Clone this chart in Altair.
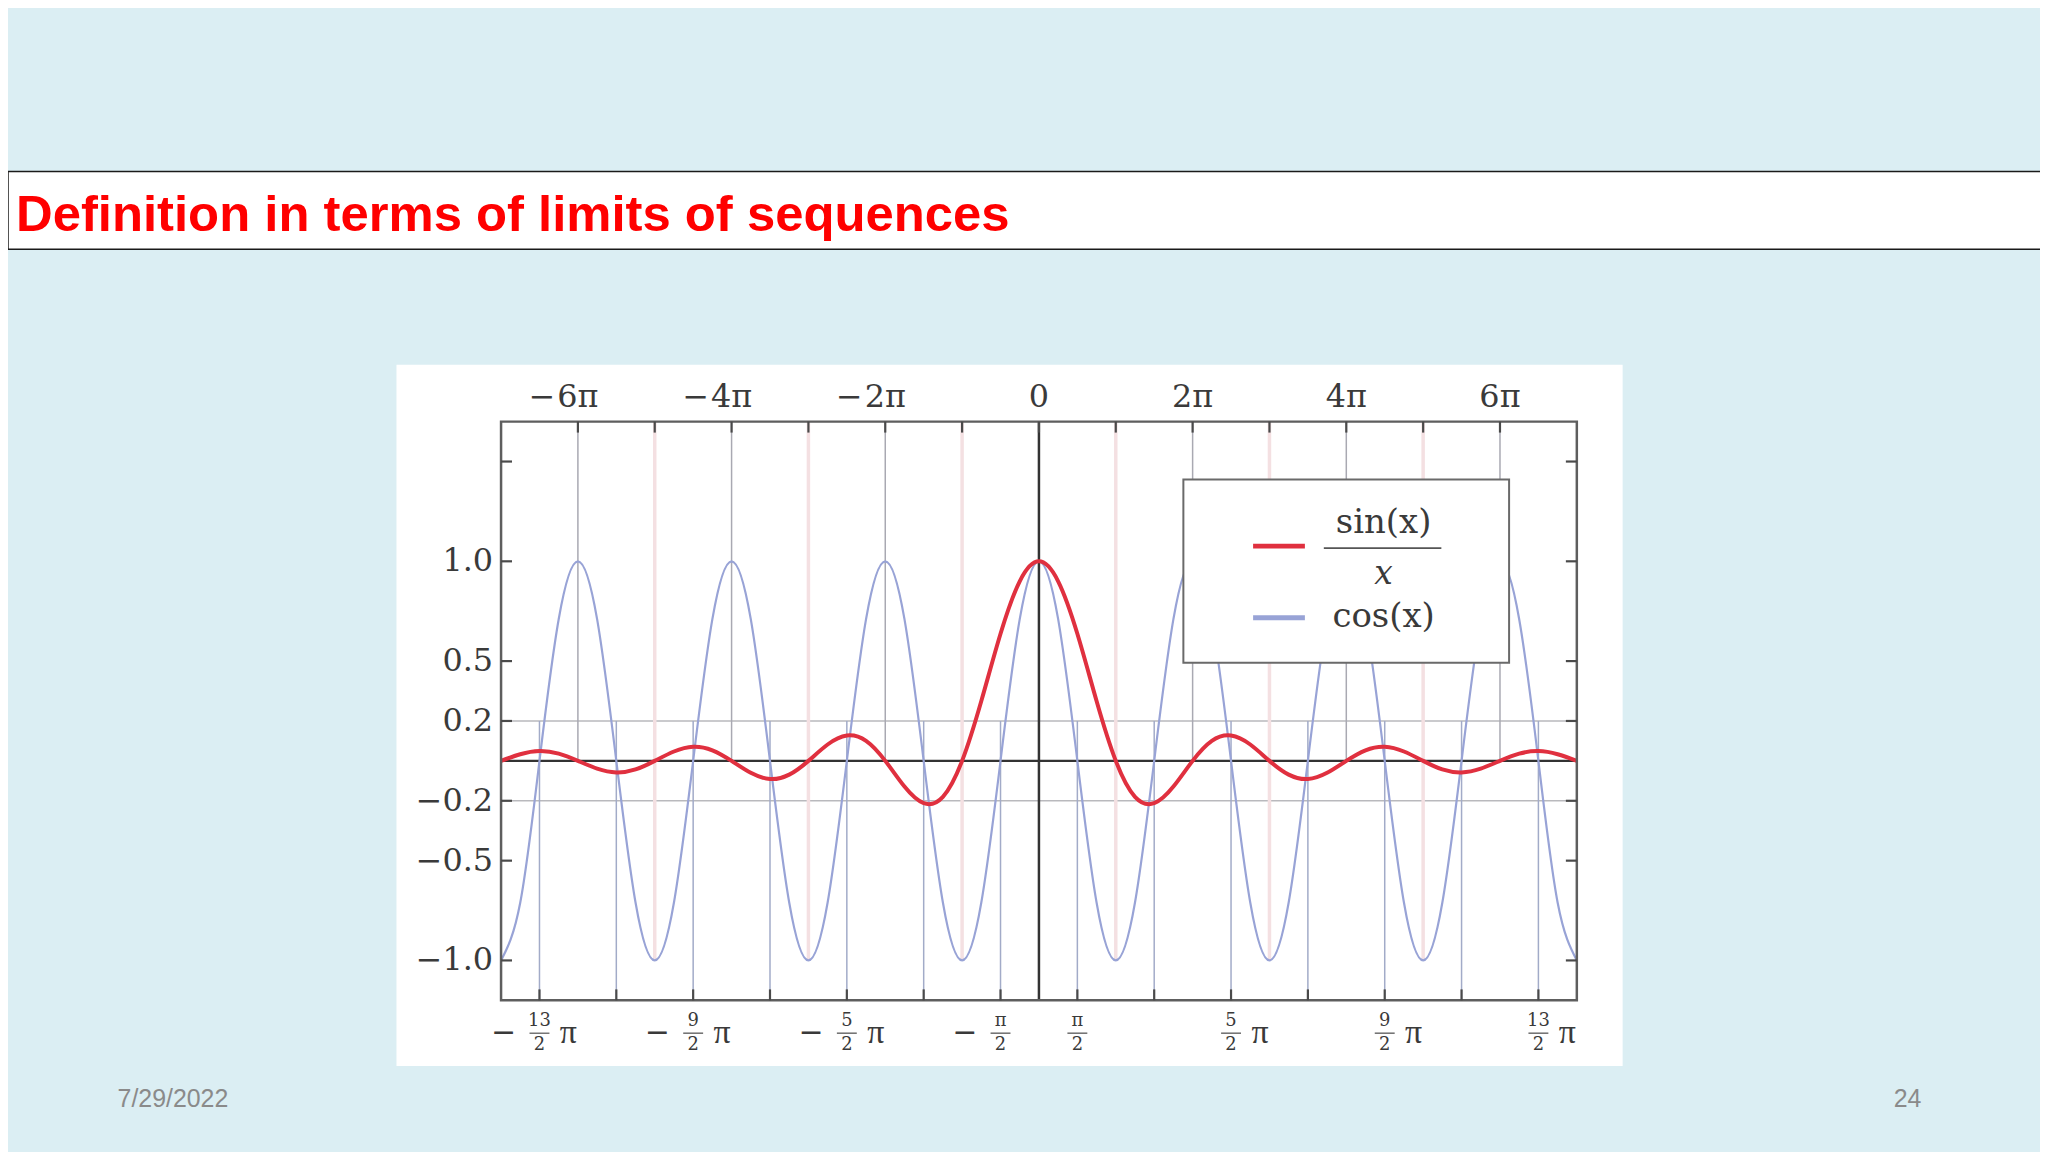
import altair as alt
import pandas as pd

W, H = 1080, 581
X_MIN, X_MAX = -7, 7          # x in units of pi
Y_MIN, Y_MAX = -1.2, 1.7

# ---------------- data ----------------
t_grid = [i / 4 for i in range(-28, 29)]   # sample positions (units of pi)
cos_vals = [
    -1, -0.71, 0, 0.71, 1, 0.71, 0, -0.71,
    -1, -0.71, 0, 0.71, 1, 0.71, 0, -0.71,
    -1, -0.71, 0, 0.71, 1, 0.71, 0, -0.71,
    -1, -0.71, 0, 0.71, 1, 0.71, 0, -0.71,
    -1, -0.71, 0, 0.71, 1, 0.71, 0, -0.71,
    -1, -0.71, 0, 0.71, 1, 0.71, 0, -0.71,
    -1, -0.71, 0, 0.71, 1, 0.71, 0, -0.71,
    -1,
]
sinc_vals = [
    0, 0.033, 0.049, 0.036, 0, -0.039, -0.058, -0.043,
    0, 0.047, 0.071, 0.053, 0, -0.060, -0.091, -0.069,
    0, 0.082, 0.127, 0.100, 0, -0.129, -0.212, -0.180,
    0, 0.300, 0.637, 0.900,
    1.0,
    0.900, 0.637, 0.300, 0,
    -0.180, -0.212, -0.129, 0, 0.100, 0.127, 0.082, 0,
    -0.069, -0.091, -0.060, 0, 0.053, 0.071, 0.047, 0,
    -0.043, -0.058, -0.039, 0, 0.036, 0.049, 0.033, 0,
]

top_tick_pos = [-6, -5, -4, -3, -2, -1, 0, 1, 2, 3, 4, 5, 6]
top_label_pos = [-6, -4, -2, 0, 2, 4, 6]
top_label_text = ["6π", "4π", "2π", "0", "2π", "4π", "6π"]
top_label_sign = ["−", "−", "−", "", "", "", ""]
bottom_tick_pos = [-6.5, -5.5, -4.5, -3.5, -2.5, -1.5, -0.5,
                   0.5, 1.5, 2.5, 3.5, 4.5, 5.5, 6.5]
bl_pos = [-6.5, -4.5, -2.5, -0.5, 0.5, 2.5, 4.5, 6.5]
bl_num = ["13", "9", "5", "π", "π", "5", "9", "13"]
bl_den = ["2", "2", "2", "2", "2", "2", "2", "2"]
bl_sign = ["−", "−", "−", "−", "", "", "", ""]
bl_suffix = ["π", "π", "π", "", "", "π", "π", "π"]

y_tick_vals = [1.5, 1.0, 0.5, 0.2, -0.2, -0.5, -1.0]
y_label_vals = [1.0, 0.5, 0.2, -0.2, -0.5, -1.0]
y_label_text = ["1.0", "0.5", "0.2", "−0.2", "−0.5", "−1.0"]
hgrid_vals = [0.2, -0.2]
even_pi = [-6, -4, -2, 2, 4, 6]
odd_pi = [-5, -3, -1, 1, 3, 5]
half_pi = bottom_tick_pos

# ---------------- styles ----------------
SERIF = "DejaVu Serif"
PI_FONT = "Liberation Serif"
COS_COLOR = "#98a3d6"
SINC_COLOR = "#e0303f"
TICK_COLOR = "#4a4a4a"
LABEL_COLOR = "#3a3a3a"

xs = alt.Scale(domain=[X_MIN, X_MAX], nice=False, zero=False)
ys = alt.Scale(domain=[Y_MIN, Y_MAX], nice=False, zero=False)
one = alt.Data(values=[{"a": 1}])

cos_df = pd.DataFrame({"t": t_grid, "v": cos_vals})
sinc_df = pd.DataFrame({"t": t_grid, "v": sinc_vals})
even_df = pd.DataFrame({"t": even_pi, "y1": [Y_MAX] * len(even_pi), "y2": [0] * len(even_pi)})
odd_df = pd.DataFrame({"t": odd_pi, "y1": [Y_MAX] * len(odd_pi), "y2": [-1] * len(odd_pi)})
half_df = pd.DataFrame({"t": half_pi, "y1": [Y_MIN] * len(half_pi), "y2": [0.2] * len(half_pi)})
hgrid_df = pd.DataFrame({"v": hgrid_vals})
ytick_df = pd.DataFrame({"v": y_tick_vals})
ylab_df = pd.DataFrame({"v": y_label_vals, "lab": y_label_text})
ttick_df = pd.DataFrame({"t": top_tick_pos})
tlab_df = pd.DataFrame({"t": top_label_pos, "lab": top_label_text, "sign": top_label_sign})
btick_df = pd.DataFrame({"t": bottom_tick_pos})
bl_df = pd.DataFrame({"t": bl_pos, "num": bl_num, "den": bl_den,
                      "sign": bl_sign, "suffix": bl_suffix})

def X(field="t:Q"):
    return alt.X(field, scale=xs, axis=None)

def Y(field="v:Q"):
    return alt.Y(field, scale=ys, axis=None)

# ---------------- slide decorations ----------------
panel = alt.Chart(one).mark_rect(fill="white").encode(
    x=alt.value(-105), x2=alt.value(1126), y=alt.value(-57), y2=alt.value(647))
title_box = alt.Chart(one).mark_rect(fill="white", stroke="#1a1a1a", strokeWidth=1.5).encode(
    x=alt.value(-495), x2=alt.value(1560), y=alt.value(-251), y2=alt.value(-173))
title_text = alt.Chart(one).mark_text(
    text="Definition in terms of limits of sequences", font="Liberation Sans",
    fontWeight="bold", fontSize=51, color="#ff0000", align="left", baseline="alphabetic"
).encode(x=alt.value(-487), y=alt.value(-191))
date_text = alt.Chart(one).mark_text(
    text="7/29/2022", font="Liberation Sans", fontSize=25, color="#8a8a8a",
    align="left", baseline="alphabetic").encode(x=alt.value(-385), y=alt.value(688))
page_text = alt.Chart(one).mark_text(
    text="24", font="Liberation Sans", fontSize=25, color="#8a8a8a",
    align="right", baseline="alphabetic").encode(x=alt.value(1426), y=alt.value(688))

# ---------------- grid lines ----------------
hgrid = alt.Chart(hgrid_df).mark_rule(color="#b9b9bd", strokeWidth=1.5).encode(
    y=Y(), x=alt.value(0), x2=alt.value(W))
odd_lines = alt.Chart(odd_df).mark_rule(color="#f4e0e2", strokeWidth=3.5).encode(
    x=X(), y=Y("y1:Q"), y2="y2:Q")
even_lines = alt.Chart(even_df).mark_rule(color="#a9a9b2", strokeWidth=1.5).encode(
    x=X(), y=Y("y1:Q"), y2="y2:Q")
half_lines = alt.Chart(half_df).mark_rule(color="#a2abc8", strokeWidth=1.5).encode(
    x=X(), y=Y("y1:Q"), y2="y2:Q")
zero_h = alt.Chart(pd.DataFrame({"v": [0]})).mark_rule(color="#333333", strokeWidth=2.5).encode(
    y=Y(), x=alt.value(0), x2=alt.value(W))
zero_v = alt.Chart(pd.DataFrame({"t": [0]})).mark_rule(color="#333333", strokeWidth=2.5).encode(
    x=X(), y=alt.value(0), y2=alt.value(H))

# ---------------- curves ----------------
cos_line = alt.Chart(cos_df).mark_line(color=COS_COLOR, strokeWidth=2.2, interpolate="natural").encode(
    x=X(), y=Y())
sinc_line = alt.Chart(sinc_df).mark_line(color=SINC_COLOR, strokeWidth=4, interpolate="natural").encode(
    x=X(), y=Y())

# ---------------- legend ----------------
leg_box = alt.Chart(one).mark_rect(fill="white", stroke="#6a6a6a", strokeWidth=2).encode(
    x=alt.value(685), x2=alt.value(1012), y=alt.value(58), y2=alt.value(242))
leg_red = alt.Chart(one).mark_rule(color=SINC_COLOR, strokeWidth=5).encode(
    x=alt.value(755), x2=alt.value(807), y=alt.value(125))
leg_blue = alt.Chart(one).mark_rule(color=COS_COLOR, strokeWidth=5).encode(
    x=alt.value(755), x2=alt.value(807), y=alt.value(197))
leg_sin = alt.Chart(one).mark_text(text="sin(x)", font=SERIF, fontSize=34, color=LABEL_COLOR,
                                   baseline="middle").encode(x=alt.value(886), y=alt.value(102))
leg_bar = alt.Chart(one).mark_rule(color="#555555", strokeWidth=1.8).encode(
    x=alt.value(826), x2=alt.value(944), y=alt.value(127))
leg_x = alt.Chart(one).mark_text(text="x", font=SERIF, fontSize=33, fontStyle="italic",
                                 color=LABEL_COLOR, baseline="middle").encode(
    x=alt.value(886), y=alt.value(153))
leg_cos = alt.Chart(one).mark_text(text="cos(x)", font=SERIF, fontSize=34, color=LABEL_COLOR,
                                   baseline="middle").encode(x=alt.value(886), y=alt.value(196))

# ---------------- frame and inward ticks ----------------
frame = alt.Chart(one).mark_rect(fillOpacity=0, stroke="#5e5e5e", strokeWidth=2.5).encode(
    x=alt.value(0), x2=alt.value(W), y=alt.value(0), y2=alt.value(H))
lticks = alt.Chart(ytick_df).mark_rule(color=TICK_COLOR, strokeWidth=2.2).encode(
    y=Y(), x=alt.value(0), x2=alt.value(11))
rticks = alt.Chart(ytick_df).mark_rule(color=TICK_COLOR, strokeWidth=2.2).encode(
    y=Y(), x=alt.value(W - 11), x2=alt.value(W))
tticks = alt.Chart(ttick_df).mark_rule(color=TICK_COLOR, strokeWidth=2.2).encode(
    x=X(), y=alt.value(0), y2=alt.value(11))
bticks = alt.Chart(btick_df).mark_rule(color=TICK_COLOR, strokeWidth=2.2).encode(
    x=X(), y=alt.value(H - 11), y2=alt.value(H))

# ---------------- axis labels ----------------
ylab = alt.Chart(ylab_df).mark_text(font=SERIF, fontSize=32, color=LABEL_COLOR, align="right",
                                    baseline="middle").encode(
    y=Y(), x=alt.value(-8), text="lab:N")
tlab = alt.Chart(tlab_df).mark_text(font=SERIF, fontSize=32, color=LABEL_COLOR,
                                    baseline="middle").encode(
    x=X(), y=alt.value(-25), text="lab:N")
tlab_sign = alt.Chart(tlab_df).mark_text(font=SERIF, fontSize=32, color=LABEL_COLOR,
                                         baseline="middle", dx=-36).encode(
    x=X(), y=alt.value(-25), text="sign:N")

bl_num_l = alt.Chart(bl_df).mark_text(font=SERIF, fontSize=18, color=LABEL_COLOR, baseline="middle").encode(
    x=X(), y=alt.value(H + 21), text="num:N")
bl_den_l = alt.Chart(bl_df).mark_text(font=SERIF, fontSize=18, color=LABEL_COLOR, baseline="middle").encode(
    x=X(), y=alt.value(H + 45), text="den:N")
bl_bar = alt.Chart(bl_df).mark_tick(orient="horizontal", size=20, thickness=1.6, color=LABEL_COLOR).encode(
    x=X(), y=alt.value(H + 33))
bl_sign_l = alt.Chart(bl_df).mark_text(font=SERIF, fontSize=30, color=LABEL_COLOR, baseline="middle",
                                       dx=-36).encode(x=X(), y=alt.value(H + 33), text="sign:N")
bl_suf_l = alt.Chart(bl_df).mark_text(font=PI_FONT, fontSize=34, color=LABEL_COLOR, baseline="middle",
                                      dx=29).encode(x=X(), y=alt.value(H + 33), text="suffix:N")

chart = alt.layer(
    panel, title_box, title_text, date_text, page_text,
    hgrid, odd_lines, even_lines, half_lines, zero_h, zero_v,
    cos_line, sinc_line,
    leg_box, leg_red, leg_blue, leg_sin, leg_bar, leg_x, leg_cos,
    frame, lticks, rticks, tticks, bticks,
    ylab, tlab, tlab_sign,
    bl_num_l, bl_den_l, bl_bar, bl_sign_l, bl_suf_l,
).properties(
    width=W, height=H,
    autosize=alt.AutoSizeParams(type="none"),
    padding={"left": 495, "top": 413, "right": 465, "bottom": 150},
).configure(
    background="#dbeef3",
).configure_view(stroke="transparent")

chart.save("out.html", embed_options={"renderer": "svg", "actions": False})
